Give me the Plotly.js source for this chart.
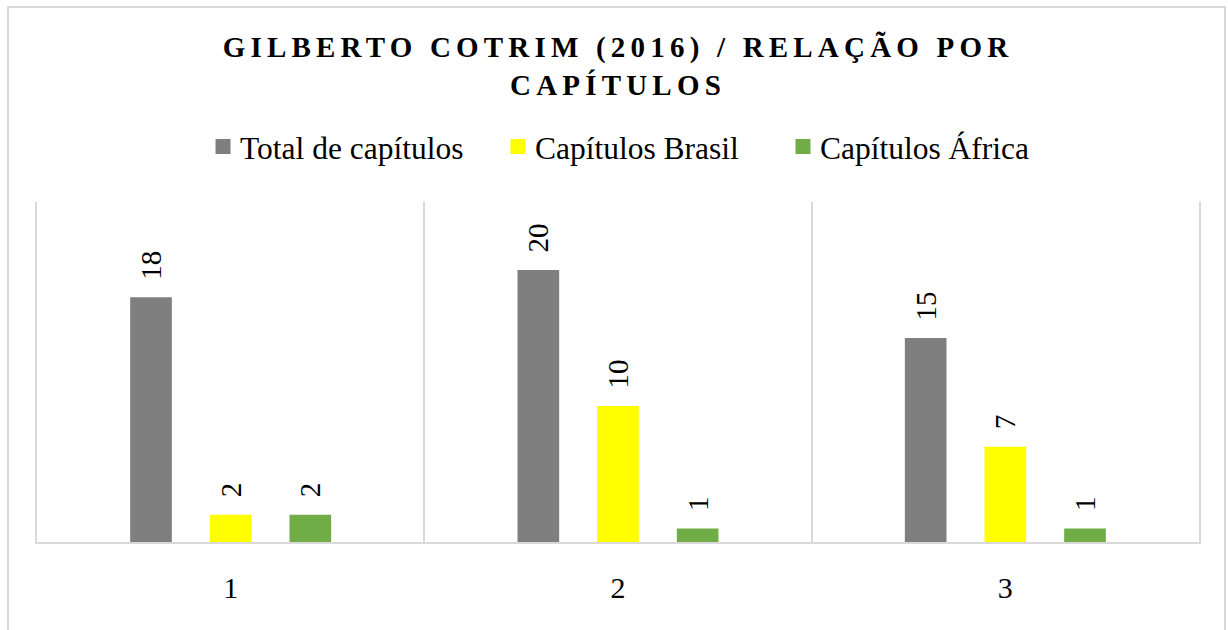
<!DOCTYPE html>
<html>
<head>
<meta charset="utf-8">
<script src="https://cdn.plot.ly/plotly-3.0.1.min.js"></script>
<style>
  html, body { margin: 0; padding: 0; background: #ffffff; overflow: hidden; }
  #wrap { position: relative; width: 1228px; height: 630px; overflow: hidden; }
  #frame { position: absolute; left: 7px; top: 6px; width: 1219px; height: 640px;
           border: 2px solid #d9d9d9; box-sizing: border-box; pointer-events: none; z-index: 5; }
  #chart { position: absolute; left: 0; top: 0; width: 1228px; height: 630px; }
  .gtitle { letter-spacing: 5.2px; }
  .legendpoints path { transform: translateX(23px) scale(1.25); }
</style>
</head>
<body>
<div id="wrap">
  <div id="chart"></div>
  <div id="frame"></div>
</div>
<script>
const categories = ["1", "2", "3"];
const totalCapitulos = [18, 20, 15];
const capitulosBrasil = [2, 10, 7];
const capitulosAfrica = [2, 1, 1];
const seriesNames = ["Total de capítulos", "Capítulos Brasil", "Capítulos África"];
const titleText = "GILBERTO COTRIM (2016) / RELAÇÃO POR<br>CAPÍTULOS";

const serif = "Liberation Serif";
const colors = ["#7f7f7f", "#ffff00", "#70ad47"];
const values = [totalCapitulos, capitulosBrasil, capitulosAfrica];
const legendIds = ["legend", "legend2", "legend3"];
const legendX = [0.1403, 0.3941, 0.6394];

const traces = values.map((v, i) => ({
  type: "bar",
  name: seriesNames[i],
  legend: legendIds[i],
  x: categories,
  y: v,
  marker: { color: colors[i], line: { width: 0 } },
  text: v.map(String),
  texttemplate: "\u00a0\u00a0%{text}",
  textposition: "outside",
  textangle: -90,
  constraintext: "none",
  cliponaxis: false,
  textfont: { family: serif, size: 29, color: "#000000" },
  hoverinfo: "skip"
}));

const layout = {
  width: 1228,
  height: 630,
  font: { family: serif, color: "#000000" },
  paper_bgcolor: "#ffffff",
  plot_bgcolor: "#ffffff",
  margin: { l: 37, r: 29, t: 202, b: 88, pad: 0 },
  barmode: "group",
  bargap: 0.383,
  bargroupgap: 0.477,
  title: {
    text: titleText,
    font: { family: serif, size: 29, color: "#000000", weight: "bold" },
    x: 0.5, xanchor: "center", xref: "paper",
    y: 0.909, yanchor: "middle", yref: "container"
  },
  showlegend: true,
  xaxis: {
    type: "category",
    range: [-0.5, 2.5],
    tickson: "boundaries",
    showgrid: true,
    gridcolor: "#d9d9d9",
    gridwidth: 2,
    showline: true,
    linecolor: "#d9d9d9",
    linewidth: 2,
    ticks: "",
    ticklabelstandoff: 18,
    tickfont: { family: serif, size: 30, color: "#000000" },
    zeroline: false,
    fixedrange: true
  },
  yaxis: {
    range: [0, 25],
    showgrid: false,
    showticklabels: false,
    showline: true,
    mirror: true,
    linecolor: "#d9d9d9",
    linewidth: 2,
    ticks: "",
    zeroline: false,
    fixedrange: true
  }
};

legendIds.forEach((id, i) => {
  layout[id] = {
    orientation: "h",
    x: legendX[i], xanchor: "left",
    y: 1.163, yanchor: "middle",
    font: { family: serif, size: 31.5, color: "#000000" },
    itemwidth: 30,
    borderwidth: 0,
    bgcolor: "rgba(0,0,0,0)"
  };
});

Plotly.newPlot("chart", traces, layout, { displayModeBar: false, staticPlot: true });
</script>
</body>
</html>
